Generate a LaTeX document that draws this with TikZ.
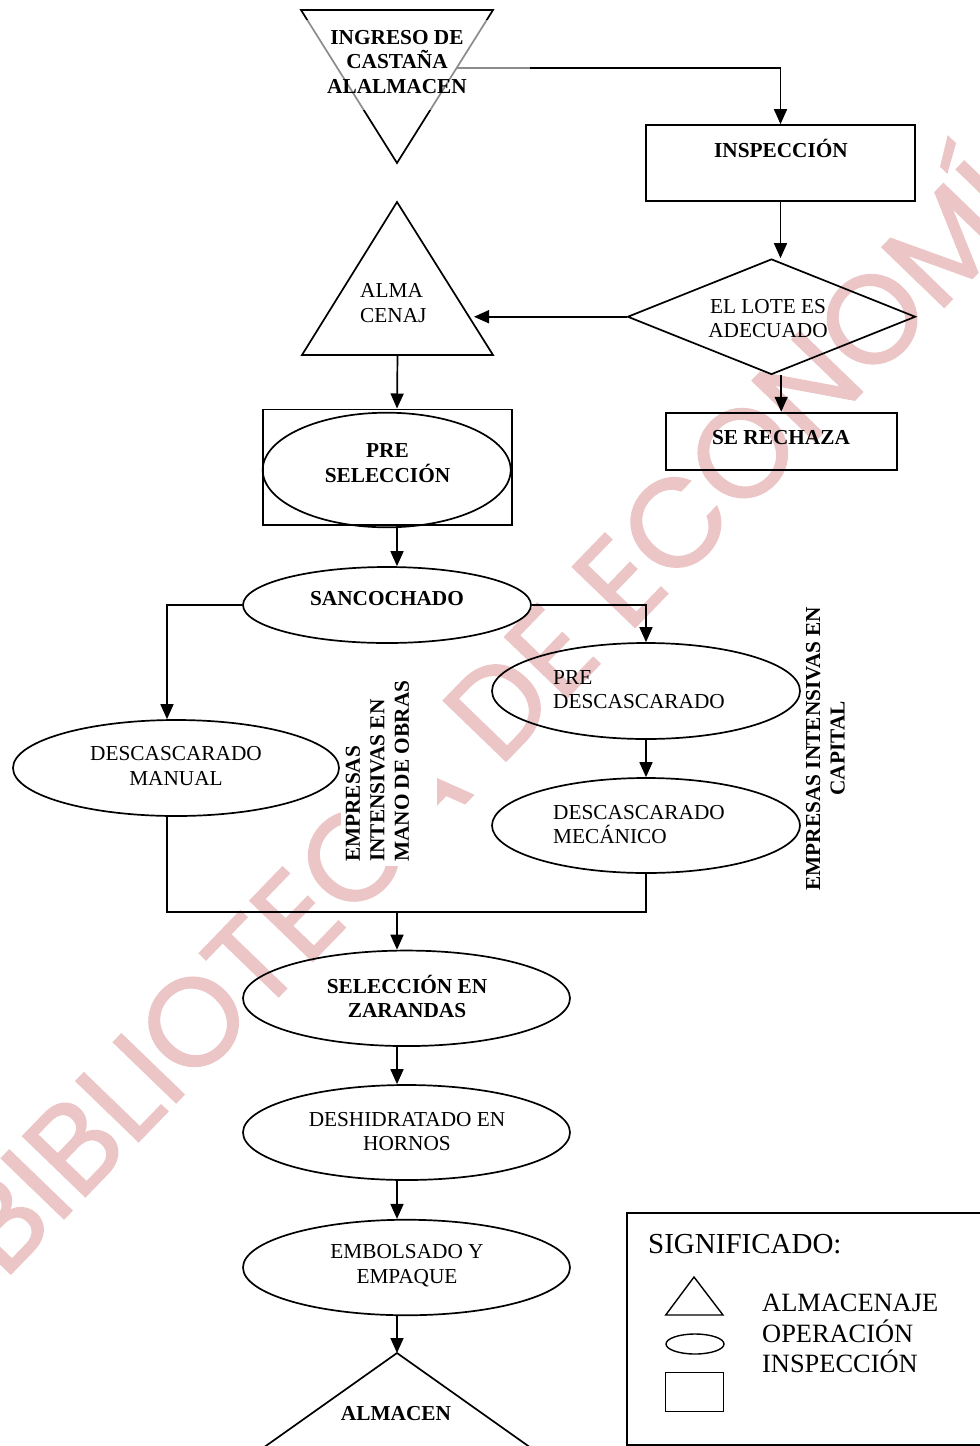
\documentclass[tikz,border=0pt]{standalone}
\usepackage{fontspec}
\setmainfont{Liberation Serif}
\newfontfamily\wmfont{Poppins}[FakeBold=1.2]
\usetikzlibrary{arrows.meta,shapes.geometric,calc}
\definecolor{wmpink}{RGB}{236,198,198}
\begin{document}
\begin{tikzpicture}[x=1pt,y=-1pt,
  conn/.style={line width=1.7pt},
  arr/.style={conn,-{Triangle[length=15pt,width=13pt]}},
  lbl/.style={font=\fontsize{21.3}{24.5}\selectfont, align=center, inner sep=0pt},
  blbl/.style={lbl, font=\fontsize{21.3}{24.5}\selectfont\bfseries},
  oval/.style={draw, ellipse, line width=1.7pt, inner sep=0pt},
  box/.style={draw, rectangle, line width=1.7pt, inner sep=0pt},
  wm/.style={rotate=46, anchor=base west, inner sep=0pt, text=wmpink,
    font=\wmfont\fontsize{125}{125}\selectfont},
  legtxt/.style={font=\fontsize{26.4}{30.5}\selectfont, align=left, anchor=west, inner sep=0pt},
]
\useasboundingbox (0,0) rectangle (980,1446);

% watermark
\node[wm] (wmark) at (4,1281) {BIBLIOTECA DE ECONOMÍA};
\fill[white] (341,668) rectangle (437,866);

% spine coordinates
\coordinate (spine) at (397,0);
\coordinate (lx) at (167,0);

% top inverted triangle
\coordinate (t1a) at (301,10);
\coordinate (t1b) at (493,10);
\coordinate (t1c) at (397,163);
\draw[conn] (t1a) -- (t1b) -- (t1c) -- cycle;
\coordinate (t1out) at ($(t1b)!0.38!(t1c)$);

% inspection
\node[box, minimum width=269pt, minimum height=76pt] (insp) at (780.5,163) {};
\draw[arr] (t1out) -| (insp.north);
\fill[white, opacity=0.55] (306,20) rectangle (530,110);
\node[blbl] (ingtxt) at (397,61.7) {INGRESO DE\\CASTAÑA\\ALALMACEN};
\node[blbl] (insptxt) at (781,148) {INSPECCIÓN};

% decision
\node[draw, diamond, line width=1.7pt, minimum width=288pt, minimum height=115.5pt, inner sep=0pt] (lote) at (771.5,316.75) {};
\node[lbl] (lotetxt) at (768,318.5) {EL LOTE ES\\ADECUADO};
\draw[arr] (insp.south) -- (insp.south |- lote.north);

% reject
\node[box, minimum width=231pt, minimum height=57.3pt] (rech) at (781.2,441.3) {};
\node[blbl] (rechtxt) at (781,438) {SE RECHAZA};
\draw[arr] (lote.south -| rech.north) -- (rech.north);

% storage triangle
\coordinate (a2t) at (397,202);
\coordinate (a2l) at (302,355);
\coordinate (a2r) at (493,355);
\draw[conn] (a2t) -- (a2r) -- (a2l) -- cycle;
\coordinate (a2in) at ($(a2t)!0.75!(a2r)$);
\coordinate (a2b) at ($(a2l)!0.5!(a2r)$);
\node[lbl, align=left, anchor=west] (almtxt) at (360,303) {ALMA\\CENAJ};
\draw[arr, shorten >=5pt] (lote.west) -- (a2in);

% pre seleccion
\node[box, minimum width=249pt, minimum height=115.7pt] (presel) at (387.2,467.2) {};
\node[oval, minimum width=248pt, minimum height=114.6pt] (preselov) at (386.7,470) {};
\node[blbl] (preseltxt) at (387.5,463) {PRE\\SELECCIÓN};
\draw[arr] (a2b) -- (spine |- presel.north);

% sancochado
\node[oval, minimum width=288pt, minimum height=76pt] (sanco) at (387,605) {};
\node[blbl] (sancotxt) at (387,599) {SANCOCHADO};
\draw[arr] (spine |- presel.south) -- (spine |- sanco.north);

% manual
\node[oval, minimum width=326pt, minimum height=96pt] (manual) at (176,768) {};
\node[lbl] (manualtxt) at (176,766) {DESCASCARADO\\MANUAL};
\draw[arr] (sanco.west) -| (lx |- manual.north);

% pre descascarado
\node[oval, minimum width=308pt, minimum height=96pt] (predesc) at (646,691) {};
\node[lbl, align=left, anchor=west] (predesctxt) at (553,689.5) {PRE\\DESCASCARADO};
\draw[arr] (sanco.east) -| (predesc.north);

% mecanico
\node[oval, minimum width=308pt, minimum height=95pt] (mecan) at (646,825.5) {};
\node[lbl, align=left, anchor=west] (mecantxt) at (553,824.5) {DESCASCARADO\\MECÁNICO};
\draw[arr] (predesc.south) -- (mecan.north);

% side labels
\node[blbl, rotate=90, align=left, anchor=west] (vt1) at (377.5,862) {EMPRESAS\\INTENSIVAS EN\\MANO DE OBRAS};
\node[blbl, rotate=90] (vt2) at (825.5,748.5) {EMPRESAS INTENSIVAS EN\\CAPITAL};

% join
\coordinate (join) at (397,912);
\draw[conn] (lx |- manual.south) |- (join) -| (mecan.south);

% zarandas
\node[oval, minimum width=327pt, minimum height=95.5pt] (zar) at (406.5,998.3) {};
\node[blbl] (zartxt) at (407,996.5) {SELECCIÓN EN\\ZARANDAS};
\draw[arr] (join) -- (spine |- zar.north);

% deshidratado
\node[oval, minimum width=327pt, minimum height=95pt] (desh) at (406.5,1132.5) {};
\node[lbl] (deshtxt) at (407,1131.5) {DESHIDRATADO EN\\HORNOS};
\draw[arr] (spine |- zar.south) -- (spine |- desh.north);

% embolsado
\node[oval, minimum width=327pt, minimum height=95.5pt] (emb) at (406.5,1267.5) {};
\node[lbl] (embtxt) at (407,1265.5) {EMBOLSADO Y\\EMPAQUE};
\draw[arr] (spine |- desh.south) -- (spine |- emb.north);

% final storage
\coordinate (a3t) at (397,1353);
\coordinate (a3l) at (246,1460);
\coordinate (a3r) at (548,1460);
\draw[conn] (a3l) -- (a3t) -- (a3r);
\node[blbl] (a3txt) at (396,1414) {ALMACEN};
\draw[arr] (spine |- emb.south) -- (a3t);

% legend
\draw[conn] (627.3,1213) rectangle (995,1445);
\node[font=\fontsize{29}{31}\selectfont, anchor=west, inner sep=0pt] (legtitle) at (648,1244) {SIGNIFICADO:};
\coordinate (lt1) at (665.7,1315);
\coordinate (lt2) at (694,1277);
\coordinate (lt3) at (723,1315);
\draw[line width=1.4pt] (lt1) -- (lt2) -- (lt3) -- cycle;
\node[draw, ellipse, line width=1.4pt, inner sep=0pt, minimum width=58pt, minimum height=20pt] (legov) at (695,1344) {};
\node[draw, rectangle, line width=1.4pt, inner sep=0pt, minimum width=57.6pt, minimum height=39pt] (legbox) at (694.5,1392.2) {};
\node[legtxt] (legitems) at (762,1333.5) {ALMACENAJE\\OPERACIÓN\\INSPECCIÓN};
\end{tikzpicture}
\end{document}
